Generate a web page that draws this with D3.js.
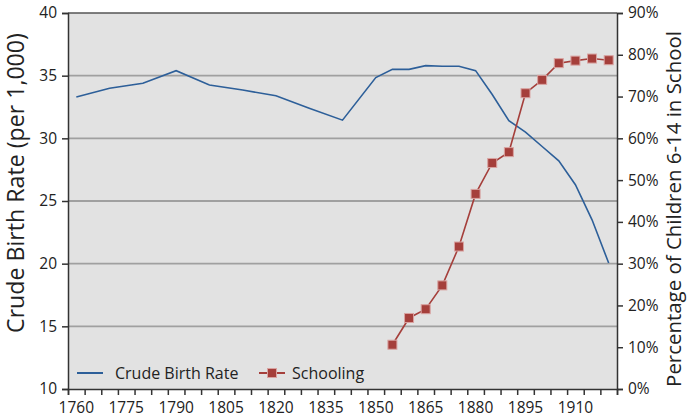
<!DOCTYPE html>
<html>
<head>
<meta charset="utf-8">
<script src="https://cdn.jsdelivr.net/npm/d3@7"></script>
<style>
  body { margin: 0; background: #fff; }
  svg text { font-family: "Open Sans", "Noto Sans", sans-serif; fill: #222; }
</style>
</head>
<body>
<div id="chart"></div>
<script>
// chart size and plot box
const width = 688;
const height = 418;
const margin = { top: 13, right: 71, bottom: 29, left: 68 };

// categories on the x axis (every 5 years)
const years = d3.range(1760, 1921, 5);
const yearLabels = [1760, 1775, 1790, 1805, 1820, 1835, 1850, 1865, 1880, 1895, 1910];

// crude birth rate (per 1,000)
const birthYears = [1760, 1770, 1780, 1790, 1800, 1810, 1820, 1830, 1840, 1850, 1855, 1860, 1865, 1870, 1875, 1880, 1885, 1890, 1895, 1900, 1905, 1910, 1915, 1920];
const birthRate = [33.3, 34.0, 34.4, 35.4, 34.25, 33.85, 33.4, 32.4, 31.45, 34.85, 35.5, 35.5, 35.8, 35.75, 35.75, 35.4, 33.5, 31.4, 30.5, 29.35, 28.2, 26.3, 23.5, 20.05];

// schooling, % of children 6-14 in school
const schoolYears = [1855, 1860, 1865, 1870, 1875, 1880, 1885, 1890, 1895, 1900, 1905, 1910, 1915, 1920];
const schooling = [10.6, 17.0, 19.1, 24.8, 34.1, 46.7, 54.1, 56.7, 70.8, 74.0, 78.0, 78.6, 79.1, 78.7];

const leftTicks = [10, 15, 20, 25, 30, 35, 40];
const rightTicks = [0, 10, 20, 30, 40, 50, 60, 70, 80, 90];

const svg = d3.select("#chart").append("svg")
    .attr("width", width)
    .attr("height", height);

const x0 = margin.left, x1 = width - margin.right;
const y0 = height - margin.bottom, y1 = margin.top;

const x = d3.scaleBand().domain(years).range([x0, x1]).padding(0);
const xc = d => x(d) + x.bandwidth() / 2;
const xb = d3.scaleLinear().domain([0, years.length]).range([x0, x1]);

const yL = d3.scaleLinear().domain([10, 40]).range([y0, y1]);
const yR = d3.scaleLinear().domain([0, 90]).range([y0, y1]);

// plot background
svg.append("rect")
    .attr("x", x0).attr("y", y1)
    .attr("width", x1 - x0).attr("height", y0 - y1)
    .attr("fill", "#e2e2e2");

// gridlines
svg.append("g")
    .selectAll("line")
    .data([15, 20, 25, 30, 35])
    .join("line")
    .attr("x1", x0).attr("x2", x1)
    .attr("y1", d => yL(d)).attr("y2", d => yL(d))
    .attr("stroke", "#a0a0a0")
    .attr("stroke-width", 1.8);

svg.append("line")
    .attr("x1", x0).attr("x2", x1)
    .attr("y1", yL(40)).attr("y2", yL(40))
    .attr("stroke", "#555")
    .attr("stroke-width", 1.5);

// left axis
const leftAxis = svg.append("g")
    .attr("transform", `translate(${x0},0)`)
    .call(d3.axisLeft(yL).tickValues(leftTicks).tickSize(6).tickPadding(5));
leftAxis.selectAll("text").style("font-size", "15.5px");

// right axis
const rightAxis = svg.append("g")
    .attr("transform", `translate(${x1},0)`)
    .call(d3.axisRight(yR).tickValues(rightTicks).tickSize(6).tickPadding(5).tickFormat(d => d + "%"));
rightAxis.selectAll("text").style("font-size", "15.5px");

// bottom axis: ticks between categories, labels on categories
svg.append("g")
    .attr("transform", `translate(0,${y0})`)
    .call(d3.axisBottom(xb).tickValues(d3.range(0, years.length + 1)).tickSize(6).tickFormat(""));

const bottomLabels = svg.append("g")
    .attr("transform", `translate(0,${y0})`)
    .call(d3.axisBottom(x).tickValues(yearLabels).tickSize(0).tickPadding(13));
bottomLabels.select(".domain").remove();
bottomLabels.selectAll("text").style("font-size", "15.5px");

svg.selectAll(".domain, .tick line").attr("stroke", "#333").attr("stroke-width", 1.5);

// axis titles, sized to the span they take in the original
function axisTitle(label, cx, cy, span) {
    const t = svg.append("text")
        .attr("transform", `translate(${cx},${cy}) rotate(-90)`)
        .attr("text-anchor", "middle")
        .style("font-size", "20px")
        .text(label);
    const len = t.node().getComputedTextLength();
    t.style("font-size", (20 * span / len) + "px");
    return t;
}
axisTitle("Crude Birth Rate (per 1,000)", 24, 183, 300);
axisTitle("Percentage of Children 6-14 in School", 681, 209, 356);

// birth rate line
const blue = "#2d5f99";
const red = "#a53f3b";

const birthData = birthYears.map((yr, i) => ({ yr, v: birthRate[i] }));
svg.append("path")
    .datum(birthData)
    .attr("fill", "none")
    .attr("stroke", blue)
    .attr("stroke-width", 1.6)
    .attr("d", d3.line().x(d => xc(d.yr)).y(d => yL(d.v)));

// schooling line + markers
const schoolData = schoolYears.map((yr, i) => ({ yr, v: schooling[i] }));
svg.append("path")
    .datum(schoolData)
    .attr("fill", "none")
    .attr("stroke", red)
    .attr("stroke-width", 1.6)
    .attr("d", d3.line().x(d => xc(d.yr)).y(d => yR(d.v)));

svg.append("g")
    .selectAll("rect")
    .data(schoolData)
    .join("rect")
    .attr("x", d => xc(d.yr) - 4.5)
    .attr("y", d => yR(d.v) - 4.5)
    .attr("width", 9).attr("height", 9)
    .attr("fill", red)
    .attr("stroke", "#d9a3a1")
    .attr("stroke-width", 1);

// legend
const legend = svg.append("g").attr("transform", "translate(0,373)");
legend.append("line")
    .attr("x1", 77).attr("x2", 103).attr("y1", 0).attr("y2", 0)
    .attr("stroke", blue).attr("stroke-width", 2);
legend.append("text")
    .attr("x", 115).attr("y", 0).attr("dy", "0.35em")
    .style("font-size", "16px")
    .text("Crude Birth Rate");
legend.append("line")
    .attr("x1", 259).attr("x2", 285).attr("y1", 0).attr("y2", 0)
    .attr("stroke", red).attr("stroke-width", 2);
legend.append("rect")
    .attr("x", 267.5).attr("y", -4.5).attr("width", 9).attr("height", 9)
    .attr("fill", red).attr("stroke", "#d9a3a1");
legend.append("text")
    .attr("x", 292).attr("y", 0).attr("dy", "0.35em")
    .style("font-size", "16px")
    .text("Schooling");
</script>
</body>
</html>
